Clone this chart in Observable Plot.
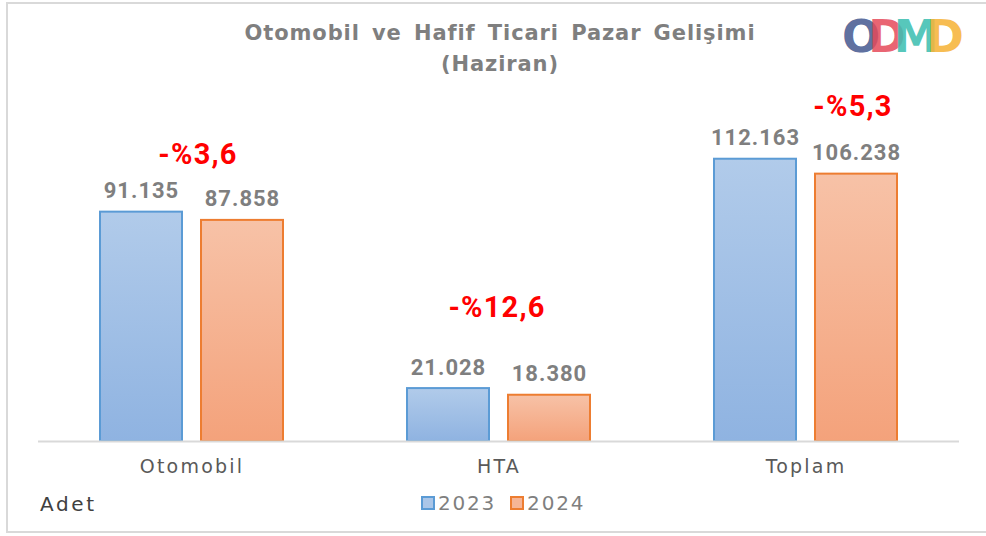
<!DOCTYPE html>
<html>
<head>
<meta charset="utf-8">
<script src="https://cdn.jsdelivr.net/npm/d3@7"></script>
<script src="https://cdn.jsdelivr.net/npm/@observablehq/plot@0.6"></script>
<style>
  body { margin: 0; background: #fff; }
  #wrap { position: relative; width: 986px; height: 536px; overflow: hidden; background: #fff; }
  #border { position: absolute; left: 6px; top: 2px; width: 990px; height: 527px; border: 2px solid #d9d9d9; box-sizing: content-box; }
  #title { position: absolute; left: 0; top: 18px; width: 1000px; text-align: center; font-family: "DejaVu Sans", sans-serif; font-weight: bold; font-size: 21px; color: #7f7f7f; letter-spacing: 0.9px; word-spacing: 4px; line-height: 31px; }
  #logo { position: absolute; left: 838px; top: 8px; }
  #plot { position: absolute; left: 0; top: 90px; }
  #adet { position: absolute; left: 40px; top: 492px; font-family: "DejaVu Sans", sans-serif; font-size: 20px; color: #404040; letter-spacing: 2.6px; }
  #legend { position: absolute; left: 421px; top: 491px; font-family: "DejaVu Sans", sans-serif; font-size: 20px; color: #7f7f7f; letter-spacing: 1.8px; display: flex; align-items: center; }
  #legend .sw { width: 10px; height: 10px; border: 2px solid; margin-right: 3px; display: inline-block; }
  #legend .it { display: flex; align-items: center; margin-right: 14px; }
  g[font-size="22"] text { letter-spacing: 1px; }
  g[font-size="29"] text { letter-spacing: 1.2px; }
  g[font-size="19"] text { letter-spacing: 2.2px; }
</style>
</head>
<body>
<div id="wrap">
  <div id="border"></div>
  <div id="title">Otomobil ve Hafif Ticari Pazar Gelişimi<br>(Haziran)</div>
  <svg id="logo" width="140" height="56" xmlns="http://www.w3.org/2000/svg">
    <text x="4" y="44" font-family="DejaVu Sans" font-weight="bold" font-size="45" letter-spacing="-12"><tspan fill="#4a5d93" fill-opacity="0.9">O</tspan><tspan fill="#e5495a" fill-opacity="0.85">D</tspan><tspan fill="#3fbfb2" fill-opacity="0.88">M</tspan><tspan fill="#f6b43a" fill-opacity="0.88">D</tspan></text>
  </svg>
  <div id="plot"></div>
  <div id="adet">Adet</div>
  <div id="legend"></div>
</div>
<script>
// ---- data ----
const categories = ["Otomobil", "HTA", "Toplam"];
const years = ["2023", "2024"];
const values2023 = [91135, 21028, 112163];
const values2024 = [87858, 18380, 106238];
const changeLabels = ["-%3,6", "-%12,6", "-%5,3"];
const unitLabel = "Adet";

// ---- build table ----
const table = [];
categories.forEach((c, i) => {
  table.push({cat: c, year: years[0], value: values2023[i]});
  table.push({cat: c, year: years[1], value: values2024[i]});
});
const pctData = categories.map((c, i) => ({cat: c, top: Math.max(values2023[i], values2024[i]), label: changeLabels[i]}));

const trLocale = d3.formatLocale({decimal: ",", thousands: ".", grouping: [3], currency: ["", ""]});
const fmt = trLocale.format(",");

const strokeColors = {"2023": "#5b9bd5", "2024": "#ed7d31"};
const pctDx = [6, -2, 47];
const pctDy = [-57, -81, -53];

const chart = Plot.plot({
  width: 986,
  height: 390,
  marginLeft: 37,
  marginRight: 26,
  marginTop: 49,
  marginBottom: 39,
  fx: {domain: categories, padding: 0, axis: null},
  x: {domain: years, paddingInner: 0.186, paddingOuter: 0.6, axis: null},
  y: {domain: [0, 120000], axis: null},
  color: {domain: years, range: ["url(#gBlue)", "url(#gOrange)"]},
  marks: [
    ...years.map(yr => Plot.barY(table.filter(d => d.year === yr), {
      fx: "cat", x: "year", y: "value", fill: "year", stroke: strokeColors[yr], strokeWidth: 2
    })),
    Plot.ruleY([0], {stroke: "#d9d9d9", strokeWidth: 2}),
    Plot.text(table, {
      fx: "cat", x: "year", y: "value", text: d => fmt(d.value), dy: -21,
      fontSize: 22, fontWeight: "bold", fill: "#7f7f7f", fontFamily: "Roboto"
    }),
    ...pctData.map((d, i) => Plot.text([d], {
      fx: "cat", y: "top", text: "label", dx: pctDx[i], dy: pctDy[i],
      fontSize: 29, fontWeight: "bold", fill: "#ff0000", fontFamily: "Roboto"
    })),
    Plot.text(categories, {
      fx: d => d, text: d => d, frameAnchor: "bottom", dy: 31,
      fontSize: 19, fill: "#595959", fontFamily: "DejaVu Sans"
    })
  ]
});

// gradients
const ns = "http://www.w3.org/2000/svg";
const defs = document.createElementNS(ns, "defs");
defs.innerHTML = `
  <linearGradient id="gBlue" x1="0" y1="0" x2="0" y2="1">
    <stop offset="0" stop-color="#b1cbea"/><stop offset="1" stop-color="#8fb3e1"/>
  </linearGradient>
  <linearGradient id="gOrange" x1="0" y1="0" x2="0" y2="1">
    <stop offset="0" stop-color="#f7c2a7"/><stop offset="1" stop-color="#f4a27b"/>
  </linearGradient>`;
chart.insertBefore(defs, chart.firstChild);
document.getElementById("plot").appendChild(chart);

// legend
const legendFills = {"2023": "#abc6e8", "2024": "#f6b596"};
const lg = document.getElementById("legend");
years.forEach(yr => {
  const it = document.createElement("span");
  it.className = "it";
  it.innerHTML = `<span class="sw" style="background:${legendFills[yr]};border-color:${strokeColors[yr]}"></span>${yr}`;
  lg.appendChild(it);
});
document.getElementById("adet").textContent = unitLabel;
</script>
</body>
</html>
